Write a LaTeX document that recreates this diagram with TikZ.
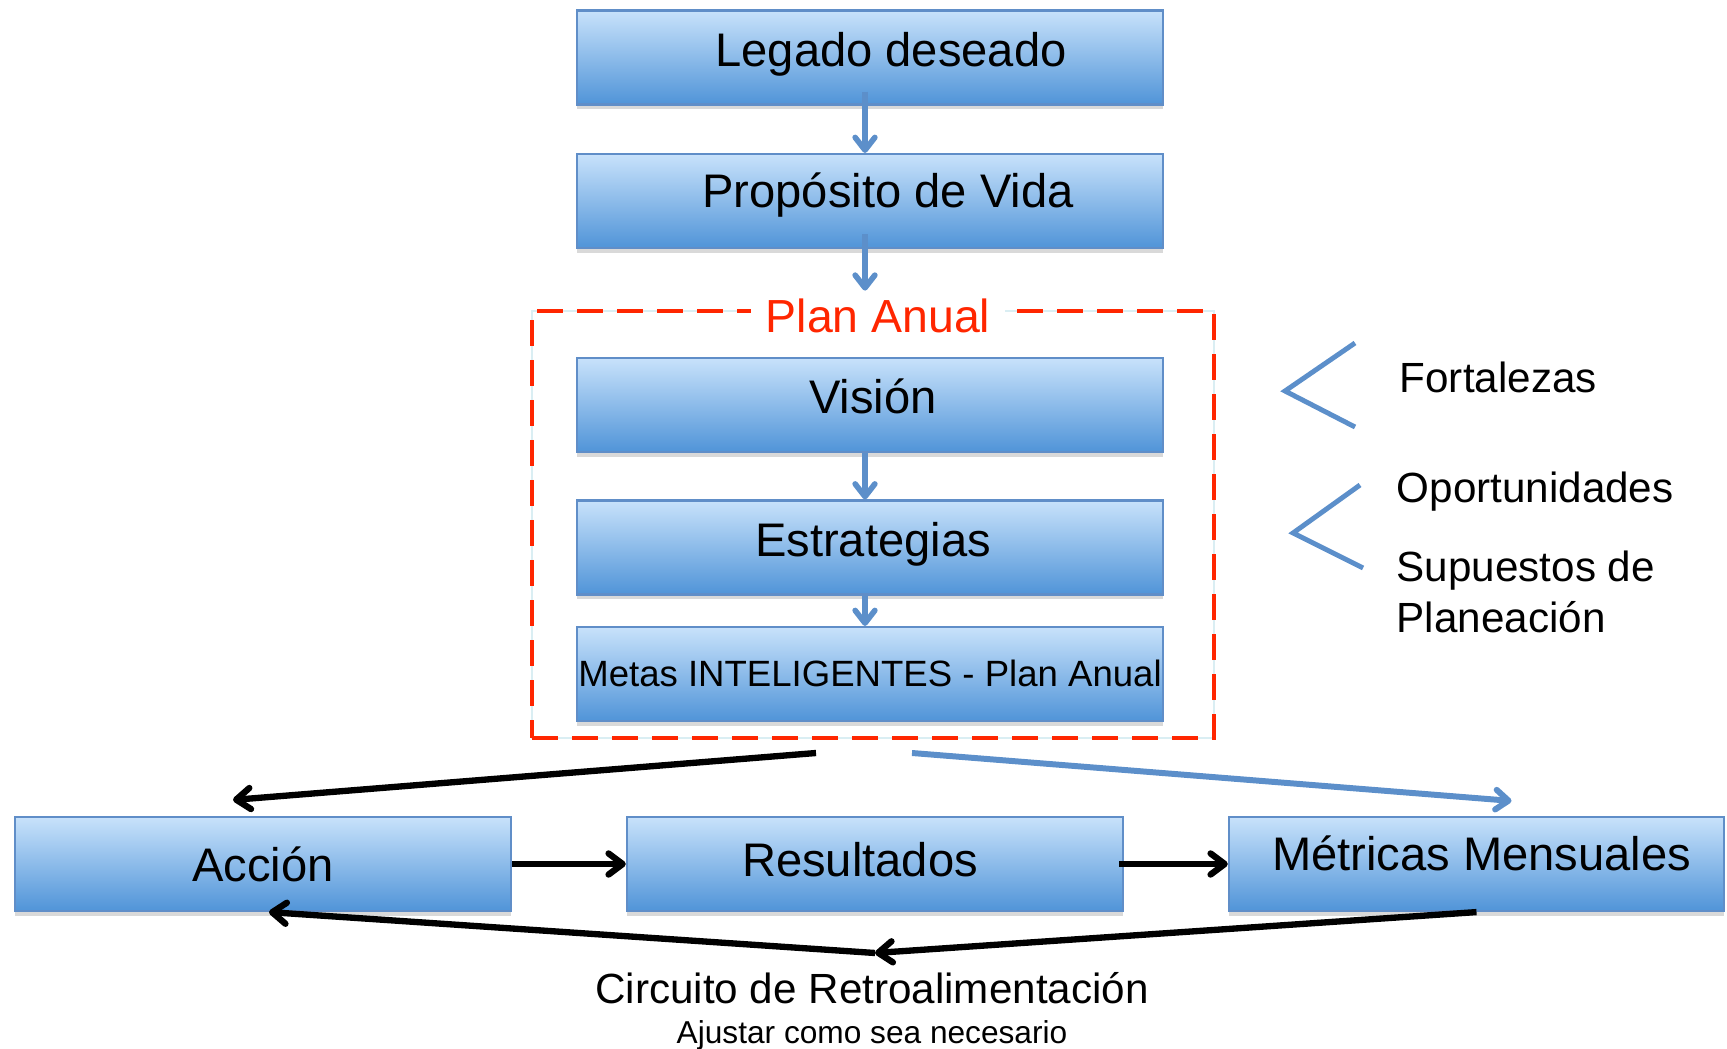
\documentclass[tikz,border=0pt]{standalone}
\usepackage{fontspec}
\setmainfont{Liberation Sans}
\usetikzlibrary{positioning, arrows.meta, shadows}

\definecolor{boxtop}{RGB}{200,226,251}
\definecolor{boxbottom}{RGB}{80,148,216}
\definecolor{boxline}{RGB}{96,142,200}
\definecolor{linkblue}{RGB}{92,143,202}
\definecolor{planred}{RGB}{255,38,0}
\definecolor{planline}{RGB}{218,238,243}

\begin{document}
\begin{tikzpicture}[
    % GLOBAL CFG
    x=0.01cm, y=-0.01cm,
    font=\fontsize{13.4}{16}\selectfont,
    % Styles
    box/.style={% For blue gradient boxes
        rectangle,
        draw=boxline,
        line width=0.6pt,
        top color=boxtop,
        bottom color=boxbottom,
        inner sep=0pt,
        minimum width=5.86cm,
        minimum height=0.94cm,
        drop shadow={shadow xshift=0pt, shadow yshift=-1.4pt, opacity=0.3},
    },
    boxtext/.style={% For the text inside the boxes
        font=\fontsize{13.4}{16}\selectfont,
        text height=9pt,
        text depth=4pt,
        inner sep=0pt,
    },
    planbox/.style={% For the dashed frame
        rectangle,
        draw=planred,
        line width=0.045cm,
        dash pattern=on 0.26cm off 0.14cm,
        preaction={draw=planline, solid, line width=0.5pt},
        minimum width=6.82cm,
        minimum height=4.27cm,
        inner sep=0pt,
    },
    plantitle/.style={% For the frame title
        text=planred,
        fill=white,
        font=\fontsize{13.2}{16}\selectfont,
        inner xsep=0.15cm,
        inner ysep=1pt,
        anchor=base,
    },
    note/.style={% For the notes on the right
        font=\fontsize{12}{14.5}\selectfont,
        align=left,
        inner sep=0pt,
        anchor=base west,
    },
    brace/.style={% For the chevrons
        draw=linkblue,
        line width=1.4pt,
    },
    flow/.style={% Blue arrows
        draw=linkblue,
        line width=1.6pt,
        -{Straight Barb[length=3.6pt,width=5.6pt,round]},
    },
    loop/.style={% Black arrows
        draw=black,
        line width=1.8pt,
        -{Straight Barb[length=4pt,width=6pt,round]},
    },
    ]
    \useasboundingbox (0,0) rectangle (1727,1049);

    % Coordinates
    \coordinate (splitL) at (816,753);
    \coordinate (splitR) at (912,753);
    \coordinate (fb) at (875,953);

    % Draw frame
    \node [planbox] (plan) at (873,524.5) {};

    % Draw column boxes
    \node [box, label={[boxtext, xshift=2.1mm]center:Legado deseado}] (legado) at (870,57.5) {};
    \node [box, label={[boxtext, xshift=1.8mm, yshift=0.2mm]center:Propósito de Vida}] (proposito) at (870,201) {};
    \node [box, label={[boxtext, xshift=0.3mm]center:Visión}] (vision) at (870,405) {};
    \node [box, label={[boxtext, xshift=0.3mm]center:Estrategias}] (estrategias) at (870,547.5) {};
    \node [box, label={[boxtext, font=\fontsize{10.4}{12}\selectfont, yshift=-0.4mm]center:Metas INTELIGENTES - Plan Anual}] (metas) at (870,674) {};

    \node [plantitle] (titulo) at (878,333) {Plan Anual};

    % Draw bottom row
    \node [box, minimum width=4.96cm, label={[boxtext, yshift=-0.9mm]center:Acción}] (accion) at (263,864) {};
    \node [box, minimum width=4.96cm, label={[boxtext, xshift=-1.5mm, yshift=-0.4mm]center:Resultados}] (resultados) at (875,864) {};
    \node [box, minimum width=4.95cm, label={[boxtext, xshift=0.5mm, yshift=0.2mm]center:Métricas Mensuales}] (metricas) at (1476.5,864) {};

    % Notes
    \node [note] (fortalezas) at (1399,393) {Fortalezas};
    \node [note] (oportunidades) at (1396,503) {Oportunidades};
    \node [note] (supuestos) at (1396,632) {Supuestos de\\Planeación};
    \draw [brace] (1355,343) -- (1285,391) -- (1355,427);
    \draw [brace] (1360,485) -- (1293,533) -- (1363,568);

    % Feedback text
    \node [anchor=base, font=\fontsize{12}{14}\selectfont] (circuito) at (872,1003) {Circuito de Retroalimentación};
    \node [anchor=base, font=\fontsize{9}{11}\selectfont] (ajustar) at (872,1043) {Ajustar como sea necesario};

    % Column arrows
    \draw [flow] ([shift={(-5,-14)}]legado.south) -- ([shift={(-5,0)}]proposito.north);
    \draw [flow] ([shift={(-5,-15)}]proposito.south) -- ([shift={(-8,-18)}]plan.north);
    \draw [flow] ([shift={(-5,0)}]vision.south) -- ([shift={(-5,0)}]estrategias.north);
    \draw [flow] ([shift={(-5,0)}]estrategias.south) -- ([shift={(-5,0)}]metas.north);

    % Bottom arrows
    \draw [loop] (splitL) -- ([shift={(-30,-16)}]accion.north);
    \draw [flow, line width=1.7pt] (splitR) -- ([shift={(35,-15)}]metricas.north);
    \draw [loop] (accion.east) -- (resultados.west);
    \draw [loop] ([shift={(-5,0)}]resultados.east) -- (metricas.west);
    \draw [loop] (metricas.south) -- (fb);
    \draw [loop] (fb) -- ([shift={(6,0)}]accion.south);

\end{tikzpicture}
\end{document}
